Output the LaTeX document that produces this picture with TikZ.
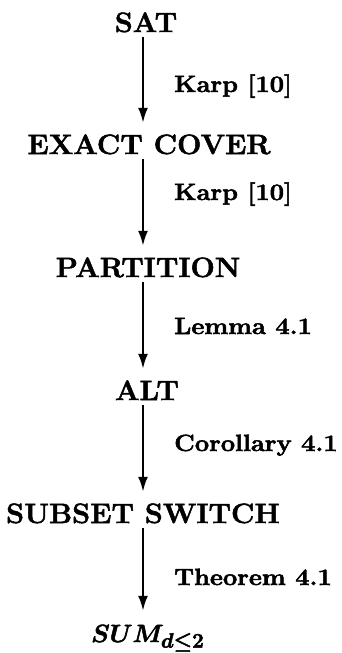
\documentclass[tikz,border=0pt]{standalone}
\usetikzlibrary{arrows.meta}
\newcommand\heavytext[1]{\special{pdf:literal direct 2 Tr 0.5 w}#1\special{pdf:literal direct 0 Tr}}
\begin{document}
\begin{tikzpicture}[x=1pt,y=-1pt,
  prob/.style={anchor=base,inner sep=0pt,text height=19pt,text depth=0pt,
    xscale=1.03,transform shape,font=\fontsize{28}{30}\selectfont\bfseries},
  mprob/.style={anchor=base west,inner sep=0pt,text height=19pt,text depth=0pt,
    font=\fontsize{28}{30}\selectfont\boldmath},
  lab/.style={anchor=base west,inner sep=0pt,xscale=1.08,transform shape,
    font=\fontsize{23.5}{26}\selectfont\bfseries},
  arr/.style={line width=2.3pt,-{Latex[length=15pt,width=10pt]},
    shorten <=5pt,shorten >=12pt}]
\useasboundingbox (0,0) rectangle (342,653);
\coordinate (ax) at (143,0);
\node[prob] (sat) at (146,32) {\heavytext{SAT}};
\node[prob] (ec) at (149,154) {\heavytext{EXACT COVER}};
\node[prob] (part) at (148,277) {\heavytext{PARTITION}};
\node[prob] (alt) at (147,400) {\heavytext{ALT}};
\node[prob] (sub) at (143,523) {\heavytext{SUBSET SWITCH}};
\node[mprob] (sumd) at (91,642) {\heavytext{$SUM_{d\leq2}$}};
\draw[arr] (sat.south -| ax) -- (ec.north -| ax);
\draw[arr] (ec.south -| ax) -- (part.north -| ax);
\draw[arr] (part.south -| ax) -- (alt.north -| ax);
\draw[arr] (alt.south -| ax) -- (sub.north -| ax);
\draw[arr] (sub.south -| ax) -- (sumd.north -| ax);
\node[lab] (l1) at (174,92) {\heavytext{Karp [10]}};
\node[lab] (l2) at (174,200) {\heavytext{Karp [10]}};
\node[lab] (l3) at (174,334) {\heavytext{Lemma 4.1}};
\node[lab] (l4) at (174,451) {\heavytext{Corollary 4.1}};
\node[lab] (l5) at (174,585) {\heavytext{Theorem 4.1}};
\end{tikzpicture}
\end{document}
